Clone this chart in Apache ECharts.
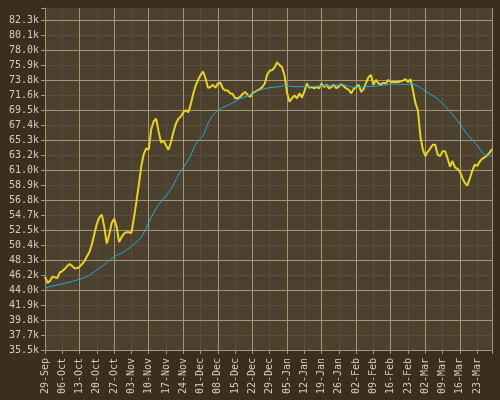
<!DOCTYPE html>
<html>
<head>
<meta charset="utf-8">
<script src="https://cdn.jsdelivr.net/npm/echarts@6/dist/echarts.min.js"></script>
<style>
    html, body { margin: 0; padding: 0; background: #3a2e1e; }
    #chart { width: 500px; height: 400px; }
</style>
</head>
<body>
<div id="chart"></div>
<script>
// weekly tick labels on x axis (day 0 = 29-Sep)
const xTickLabels = ['29-Sep', '06-Oct', '13-Oct', '20-Oct', '27-Oct', '03-Nov', '10-Nov', '17-Nov', '24-Nov',
    '01-Dec', '08-Dec', '15-Dec', '22-Dec', '29-Dec', '05-Jan', '12-Jan', '19-Jan', '26-Jan', '02-Feb',
    '09-Feb', '16-Feb', '23-Feb', '02-Mar', '09-Mar', '16-Mar', '23-Mar'];
const lastDay = 181; // 29-Mar

// y tick labels, bottom to top
const yTickLabels = ['35.5k', '37.7k', '39.8k', '41.9k', '44.0k', '46.2k', '48.3k', '50.4k', '52.5k', '54.7k',
    '56.8k', '58.9k', '61.0k', '63.2k', '65.3k', '67.4k', '69.5k', '71.6k', '73.8k', '75.9k', '78.0k',
    '80.1k', '82.3k'];
const yMin = 35.5;   // k
const yLast = 82.3;  // k, last labelled tick
const yMax = 84.0;   // k, top of plot

// daily values (k), one per day from 29-Sep
const dailyValues = [
    45.9, 45.0, 45.3, 45.9, 45.8, 45.7, 46.5, 46.7, 47.0, 47.4,
    47.7, 47.4, 47.1, 47.1, 47.3, 47.7, 48.1, 48.8, 49.4, 50.5,
    52.0, 53.4, 54.3, 54.7, 53.0, 50.6, 51.8, 53.5, 54.1, 53.0,
    50.8, 51.5, 52.0, 52.2, 52.2, 52.1, 54.2, 56.5, 59.0, 61.6,
    63.3, 64.1, 63.9, 66.8, 67.9, 68.3, 66.5, 64.9, 65.2, 64.5,
    63.9, 65.0, 66.4, 67.6, 68.3, 68.6, 69.2, 69.5, 69.2, 70.3,
    71.8, 73.0, 73.8, 74.5, 75.0, 74.0, 72.7, 72.8, 73.1, 72.7,
    73.3, 73.4, 72.6, 72.3, 72.3, 71.9, 71.8, 71.2, 71.2, 71.4,
    71.8, 72.1, 71.7, 71.4, 71.9, 72.1, 72.3, 72.5, 72.8, 73.3,
    74.6, 75.1, 75.2, 75.6, 76.3, 75.9, 75.6, 74.4, 72.0, 70.7,
    71.2, 71.6, 71.2, 71.9, 71.3, 72.1, 73.3, 72.7, 72.8, 72.6,
    72.8, 72.6, 73.3, 72.8, 73.1, 72.6, 72.8, 73.1, 72.6, 72.9,
    73.2, 72.9, 72.6, 72.4, 71.9, 72.5, 72.8, 73.1, 72.1, 72.5,
    73.4, 74.2, 74.5, 73.1, 73.8, 73.3, 73.2, 73.4, 73.3, 73.8,
    73.5, 73.5, 73.5, 73.5, 73.6, 73.7, 73.9, 73.5, 73.9, 72.3,
    70.5, 69.5, 65.8, 63.9, 63.0, 63.6, 64.1, 64.6, 64.6, 63.2,
    63.0, 63.7, 63.7, 62.7, 61.5, 62.3, 61.4, 61.2, 60.8, 59.9,
    59.2, 58.8, 59.8, 60.9, 61.8, 61.6, 62.2, 62.6, 62.8, 63.1,
    63.5, 64.0
];

// smooth (average) line, read at these days
const avgDays = [0, 2, 5, 9, 13, 17, 21, 25, 28, 32, 38, 40, 43, 46, 49, 51, 54, 57, 59, 61,
    64, 66, 68, 71, 75, 79, 83, 87, 91, 93, 97, 101, 107, 113, 121, 125, 130, 136, 141, 146,
    148, 150, 152, 154, 159, 163, 167, 171, 175, 178, 181];
const avgValues = [44.25, 44.5, 44.72, 45.04, 45.43, 45.9, 46.85, 47.88, 48.73, 49.44, 51.1, 52.1, 54.3, 56.1, 57.4, 58.3, 60.3, 61.9, 63.1, 64.7,
    65.9, 67.6, 68.8, 69.7, 70.35, 71.14, 71.66, 72.37, 72.7, 72.76, 72.98, 72.84, 72.84, 72.98, 73.08, 72.76, 72.84, 73.0, 73.22, 73.15,
    73.22, 73.08, 72.7, 72.23, 71.1, 69.7, 68.0, 66.1, 64.5, 63.2, 63.0];

const yStep = (yLast - yMin) / (yTickLabels.length - 1);
const stepMax = (yMax - yMin) / yStep;

const textColor = '#d6cdb4';
const majorLine = '#a39679';
const minorLine = '#5a4e3b';
const font = 'DejaVu Sans Mono';

const chart = echarts.init(document.getElementById('chart'), null, {renderer: 'canvas'});

chart.setOption({
    backgroundColor: '#3a2e1e',
    animation: false,
    grid: {
        left: 45, right: 8, top: 8, bottom: 50,
        show: true, backgroundColor: '#4c402f', borderWidth: 0,
        containLabel: false, outerBoundsMode: 'none'
    },
    xAxis: [
        {
            // weekly ticks, labels and faint lines
            type: 'value',
            min: 0, max: lastDay, interval: 7,
            axisLine: {lineStyle: {color: majorLine, width: 1}},
            axisTick: {length: 4, lineStyle: {color: majorLine}},
            axisLabel: {
                rotate: 90, margin: 8,
                color: textColor, fontFamily: font, fontSize: 10,
                formatter: v => (v % 7 === 0 ? xTickLabels[v / 7] || '' : '')
            },
            splitLine: {show: true, lineStyle: {color: minorLine, width: 1}},
            z: 1
        },
        {
            // two-weekly bright lines
            type: 'value',
            position: 'bottom',
            min: 0, max: lastDay, interval: 14,
            axisLine: {show: false},
            axisTick: {show: false},
            axisLabel: {show: false},
            splitLine: {show: true, lineStyle: {color: majorLine, width: 1}},
            z: 2
        }
    ],
    yAxis: [
        {
            // labels and faint lines, in tick steps
            type: 'value',
            min: 0, max: stepMax, interval: 1,
            axisLine: {show: true, lineStyle: {color: majorLine, width: 1}},
            axisTick: {show: true, length: 4, lineStyle: {color: majorLine}},
            axisLabel: {
                margin: 6, color: textColor, fontFamily: font, fontSize: 10,
                formatter: v => (Number.isInteger(v) ? yTickLabels[v] || '' : '')
            },
            splitLine: {show: true, showMaxLine: false, lineStyle: {color: minorLine, width: 1}},
            z: 1
        },
        {
            // bright lines every second tick
            type: 'value',
            position: 'left',
            min: 0, max: stepMax, interval: 2,
            axisLine: {show: false},
            axisTick: {show: false},
            axisLabel: {show: false},
            splitLine: {show: true, showMaxLine: false, lineStyle: {color: majorLine, width: 1}},
            z: 2
        },
        {
            // value axis for the series (k)
            type: 'value',
            min: yMin, max: yMax,
            show: false,
            splitLine: {show: false}
        }
    ],
    series: [
        {
            name: 'value',
            type: 'line',
            xAxisIndex: 0,
            yAxisIndex: 2,
            symbol: 'none',
            lineStyle: {color: '#e8d41c', width: 2},
            data: dailyValues.map((v, i) => [i, v]),
            z: 3
        },
        {
            name: 'average',
            type: 'line',
            xAxisIndex: 0,
            yAxisIndex: 2,
            symbol: 'none',
            smooth: 0.3,
            lineStyle: {color: '#1aaee0', width: 1},
            data: avgDays.map((d, i) => [d, avgValues[i]]),
            z: 4
        }
    ]
});
</script>
</body>
</html>
